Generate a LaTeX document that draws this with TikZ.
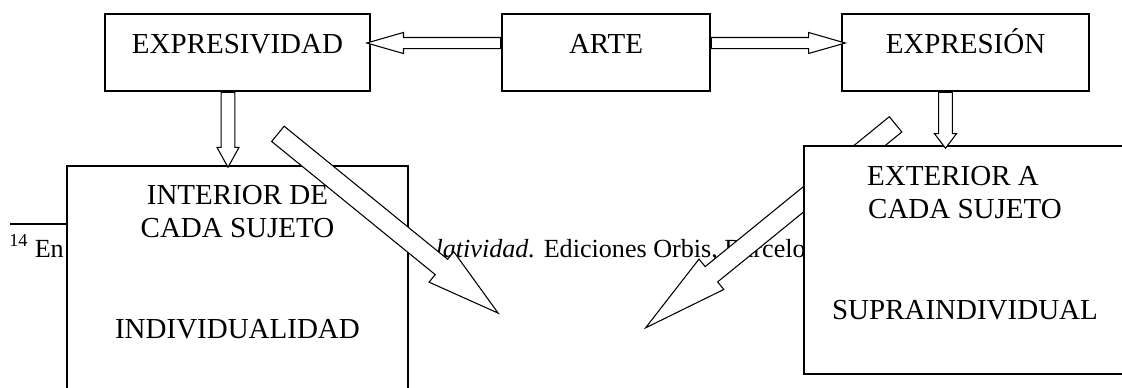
\documentclass[tikz,border=0pt]{standalone}
\usepackage{fontspec}
\setmainfont{Liberation Serif}
\usetikzlibrary{positioning}
\usetikzlibrary{shapes,arrows}
\tikzstyle{block} = [rectangle, draw, fill=white, line width=1.1pt,
    inner sep=0pt, font=\fontsize{21.75}{26}\selectfont]
\tikzstyle{toprow} = [block, minimum height=57.75pt, text height=29.25pt, text depth=28.5pt]
\tikzstyle{boxtext} = [anchor=base, inner sep=0pt, font=\fontsize{21.75}{26}\selectfont]
\tikzstyle{fntext} = [inner sep=0pt, font=\fontsize{19.6}{23}\selectfont]
\tikzstyle{bigarrow} = [single arrow, draw, fill=white, line width=0.8pt,
    inner xsep=0pt, minimum width=0pt, sloped, allow upside down, pos=0, anchor=tail]
\tikzstyle{harrow} = [bigarrow, inner ysep=3.75pt, single arrow head extend=3.75pt, single arrow tip angle=32]
\tikzstyle{varrow} = [bigarrow, inner ysep=4.7pt, single arrow head extend=3.2pt]
\tikzstyle{darrow} = [bigarrow, inner ysep=7pt, single arrow head extend=7.3pt]
\begin{document}
\begin{tikzpicture}[x=0.75pt, y=-0.75pt]
    \useasboundingbox (0,0) rectangle (1122,387);
    % footnote behind the diagram
    \coordinate (fnl) at (10,224);
    \node [fntext, anchor=base west] (fnnum) at (9,257) {\textsuperscript{14} En};
    \node [fntext, anchor=base east] (fnref) at (806,257) {\textit{latividad.} Ediciones Orbis, Barcelo};
    % Place nodes
    \node [block, minimum width=255.75pt, minimum height=190.5pt] (intr) at (237.5,293) {};
    \draw [line width=1.1pt] (fnl) -- (fnl -| intr.west);
    \node [boxtext] (intr1) at (237.5,204) {INTERIOR DE};
    \node [boxtext] (intr2) at (237.5,237) {CADA SUJETO};
    \node [boxtext] (intr3) at (237.5,338) {INDIVIDUALIDAD};
    % diagonal arrows
    \coordinate (t1) at (277.5,133.5);
    \coordinate (h1) at (498,313);
    \path (t1) -- node [darrow, minimum height=213pt, single arrow tip angle=30] (diag1) {} (h1);
    \coordinate (t2) at (896,124);
    \coordinate (h2) at (646,327.5);
    \path (t2) -- node [darrow, minimum height=241.8pt, single arrow tip angle=26] (diag2) {} (h2);
    \node [block, minimum width=244.5pt, minimum height=171pt] (extr) at (967,260) {};
    \node [boxtext] (extr1) at (953,185) {EXTERIOR A};
    \node [boxtext] (extr2) at (965,218) {CADA SUJETO};
    \node [boxtext] (extr3) at (965,319) {SUPRAINDIVIDUAL};
    \node [toprow, minimum width=198.75pt] (expv) at (237.5,52.5) {EXPRESIVIDAD};
    \node [toprow, minimum width=156pt] (arte) at (606,52.5) {ARTE};
    \node [toprow, minimum width=185.25pt] (expr) at (965.5,52.5) {EXPRESIÓN};
    % arrows
    \path ([yshift=7.125pt]arte.west) -- node [harrow, minimum height=100.5pt] (toexpv) {} ([yshift=7.125pt]expv.east);
    \path ([yshift=7.125pt]arte.east) -- node [harrow, minimum height=100.5pt] (toexpr) {} ([yshift=7.125pt]expr.west);
    \path ([xshift=-7.125pt]expv.south) -- node [varrow, minimum height=56.25pt, single arrow tip angle=58] (tointr) {} ([xshift=-7.125pt]expv.south |- intr.north);
    \path ([xshift=-15pt]expr.south) -- node [varrow, minimum height=42pt, single arrow tip angle=74] (toextr) {} ([xshift=-15pt]expr.south |- extr.north);
\end{tikzpicture}
\end{document}
